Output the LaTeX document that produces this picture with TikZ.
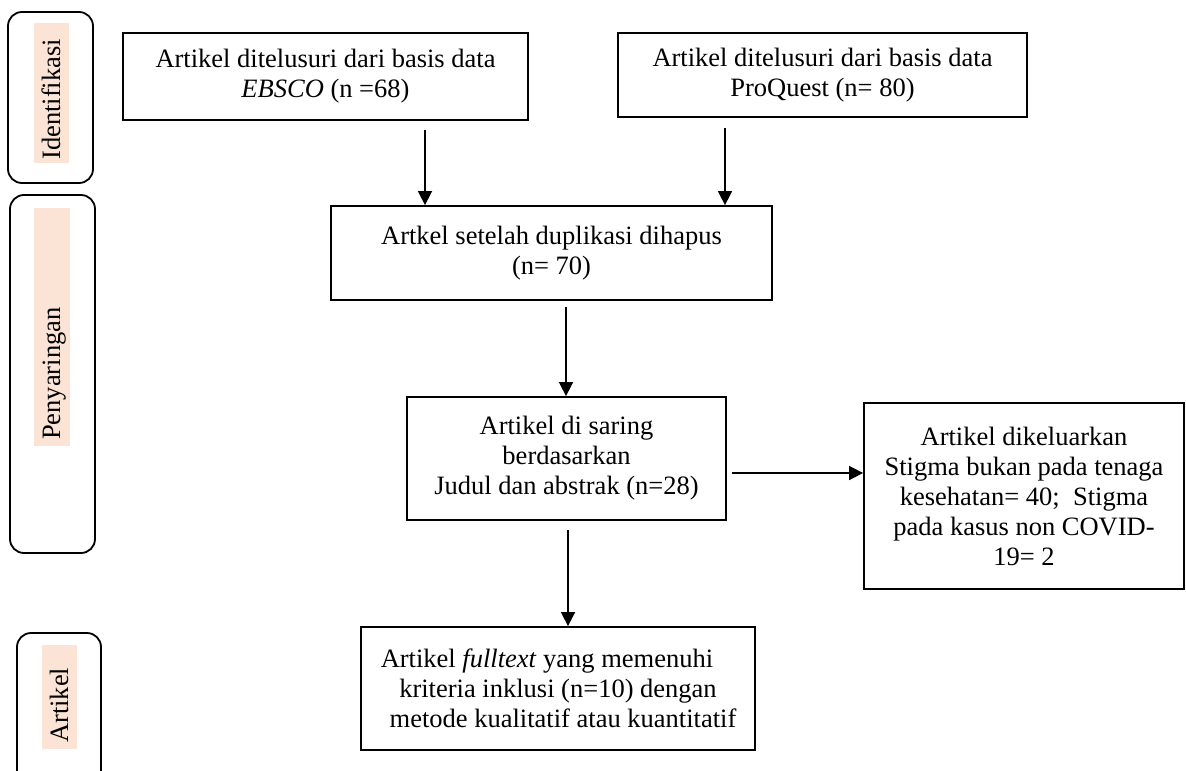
\documentclass[tikz,border=0pt]{standalone}
\usepackage{fontspec}
\setmainfont{Liberation Serif}
\usepackage{tikz}
\usetikzlibrary{arrows.meta,positioning,calc}
\definecolor{peach}{RGB}{251,228,213}

\begin{document}
\begin{tikzpicture}[x=1pt, y=-1pt, >={Triangle[width=14pt,length=14pt]},
        every node/.style={font=\fontsize{26.5}{30}\selectfont},
        box/.style={draw, line width=1.8pt, align=center, inner sep=0pt},
        stage/.style={draw, line width=1.8pt, rounded corners=14pt},
        tag/.style={rotate=90, anchor=west, inner sep=0pt, text height=19pt, text depth=6pt},
        arr/.style={line width=1.6pt, ->}]
        \useasboundingbox (0,0) rectangle (1186,771);
        \clip (0,0) rectangle (1186,771);

        % stages
        \draw[stage] (8,12) rectangle (93,183);
        \draw[stage] (10,195) rectangle (95,553);
        \draw[stage] (17,633) rectangle (101,800);
        \fill[peach] (34,23) rectangle (69,163);
        \fill[peach] (34,208) rectangle (70,446);
        \fill[peach] (42,645) rectangle (77,749);
        \node[tag] (ident) at (53.5,160) {Identifikasi};
        \node[tag] (saringan) at (53.5,440) {Penyaringan};
        \node[tag] (artikel) at (61.5,743) {Artikel};

        \path
        (325.5,76.5) node[box, minimum width=405pt, minimum height=87pt] (ebsco)
            {Artikel ditelusuri dari basis data\\\textit{EBSCO} (n =68)}
        (822.5,75) node[box, minimum width=409pt, minimum height=84pt] (proquest)
            {Artikel ditelusuri dari basis data\\ProQuest (n= 80)}
        (551.5,253) node[box, minimum width=441pt, minimum height=94pt] (dup)
            {Artkel setelah duplikasi dihapus\\(n= 70)}
        (566.5,458.5) node[box, minimum width=319pt, minimum height=123pt] (saring)
            {Artikel di saring\\berdasarkan\\Judul dan abstrak (n=28)}
        (1024,496) node[box, minimum width=320pt, minimum height=186pt] (keluar)
            {Artikel dikeluarkan\\Stigma bukan pada tenaga\\kesehatan= 40;~ Stigma\\pada kasus non COVID-\\19= 2}
        (558,688.5) node[box, minimum width=394pt, minimum height=123pt] (full)
            {Artikel \textit{fulltext} yang memenuhi\hspace*{22pt}\\kriteria inklusi (n=10) dengan\hspace*{12pt}\\\hspace*{10pt}metode kualitatif atau kuantitatif}
        ;

        \path
        (425,130) coordinate (s1)
        (725,128) coordinate (s2)
        (566,307) coordinate (s3)
        (732,473) coordinate (s4)
        (568,530) coordinate (s5)
        ;
        \draw[arr] (s1) to (s1 |- dup.north);
        \draw[arr] (s2) to (s2 |- dup.north);
        \draw[arr] (s3) to (s3 |- saring.north);
        \draw[arr] (s4) to (s4 -| keluar.west);
        \draw[arr] (s5) to (s5 |- full.north);
\end{tikzpicture}
\end{document}
